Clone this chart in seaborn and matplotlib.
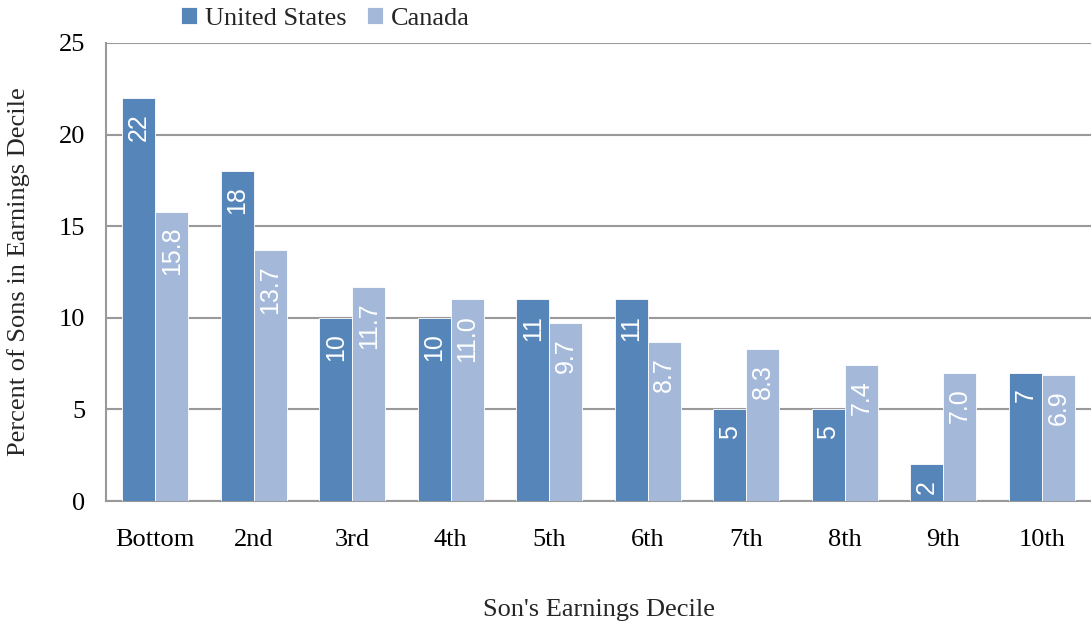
import pandas as pd
import matplotlib
matplotlib.use("Agg")
import matplotlib.pyplot as plt
import seaborn as sns

# data
deciles = ["Bottom", "2nd", "3rd", "4th", "5th", "6th", "7th", "8th", "9th", "10th"]
us_vals = [22, 18, 10, 10, 11, 11, 5, 5, 2, 7]
canada_vals = [15.8, 13.7, 11.7, 11.0, 9.7, 8.7, 8.3, 7.4, 7.0, 6.9]
countries = ["United States", "Canada"]
colors = ["#5585b9", "#a4b8da"]

df = pd.DataFrame({
    "decile": deciles * 2,
    "country": [countries[0]] * len(deciles) + [countries[1]] * len(deciles),
    "value": us_vals + canada_vals,
})

sns.set_style("white")
plt.rcParams["font.family"] = ["Liberation Serif", "DejaVu Serif"]

fig = plt.figure(figsize=(10.91, 6.21), dpi=100)
ax = fig.add_axes([0.0972, 0.1932, 0.9028, 0.7376])

sns.barplot(data=df, x="decile", y="value", hue="country", order=deciles,
            hue_order=countries, palette=colors, saturation=1, width=0.67, ax=ax,
            edgecolor="white", linewidth=0.6, zorder=3, legend=True)

# value labels inside bars, rotated
for cont, fmt in zip(ax.containers, ["{:.0f}", "{:.1f}"]):
    for bar in cont:
        h = bar.get_height()
        ax.annotate(fmt.format(h), (bar.get_x() + bar.get_width() / 2, h),
                    xytext=(0, -11), textcoords="offset points",
                    rotation=90, ha="center", va="top", color="white",
                    fontsize=18, family="Liberation Sans", zorder=4)

ax.set_ylim(0, 25)
ax.set_yticks([0, 5, 10, 15, 20, 25])
ax.set_xlim(-0.5, len(deciles) - 0.5)
ax.yaxis.grid(True, color="#999999", linewidth=1.5, zorder=0)
ax.set_axisbelow(True)
for s in ["top", "right"]:
    ax.spines[s].set_visible(False)
for s in ["left", "bottom"]:
    ax.spines[s].set_color("#999999")
    ax.spines[s].set_linewidth(1.5)
ax.tick_params(axis="both", length=0, labelsize=19, colors="black")
ax.tick_params(axis="x", pad=20)
ax.tick_params(axis="y", pad=15)

ax.set_xlabel("Son's Earnings Decile", fontsize=19, labelpad=35)
ax.set_ylabel("Percent of Sons in Earnings Decile", fontsize=19, labelpad=21)

ax.get_legend().remove()
handles, labels = ax.get_legend_handles_labels()
fig.legend(handles[:2], labels[:2], loc="center left", bbox_to_anchor=(0.156, 0.97),
           ncol=2, frameon=False, fontsize=19, handlelength=0.6, handleheight=0.6,
           handletextpad=0.3, columnspacing=0.8, borderaxespad=0)

fig.savefig("out.png", dpi=100)
